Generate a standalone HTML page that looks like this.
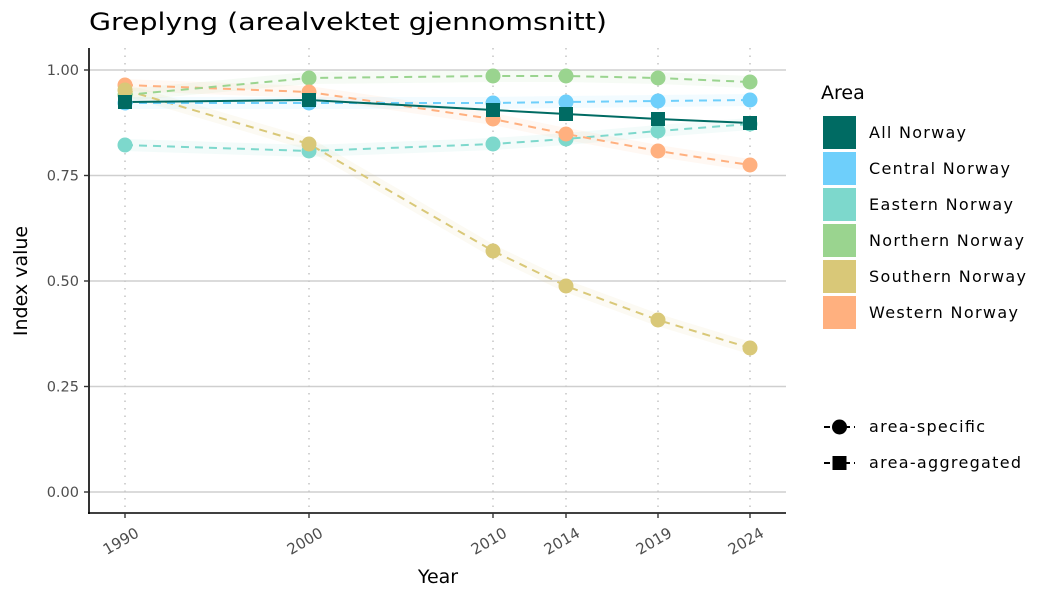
<!DOCTYPE html>
<html><head><style>body{margin:0;background:#fff}svg{display:block;font-family:"DejaVu Sans","Liberation Sans",sans-serif}</style></head>
<body>
<svg width="1050" height="600" viewBox="0 0 1050 600">
<text x="89" y="30" font-size="24" fill="#000" textLength="518" lengthAdjust="spacingAndGlyphs">Greplyng (arealvektet gjennomsnitt)</text>
<g stroke="#cfcfcf" stroke-width="1.6">
<line x1="89" x2="786" y1="70" y2="70"/><line x1="89" x2="786" y1="175.5" y2="175.5"/><line x1="89" x2="786" y1="281" y2="281"/><line x1="89" x2="786" y1="386.5" y2="386.5"/><line x1="89" x2="786" y1="492" y2="492"/>
</g>
<g stroke="#c8c8c8" stroke-width="1.6" stroke-dasharray="1.5,6">
<line x1="125" x2="125" y1="48" y2="513"/><line x1="309" x2="309" y1="48" y2="513"/><line x1="493" x2="493" y1="48" y2="513"/><line x1="566" x2="566" y1="48" y2="513"/><line x1="658" x2="658" y1="48" y2="513"/><line x1="750" x2="750" y1="48" y2="513"/>
</g>
<g fill="none" stroke-opacity="0.09" stroke-width="12" stroke-linejoin="round">
<polyline stroke="#d9c878" points="125,90 309,144 493,251 566,286 658,320 750,348"/>
<polyline stroke="#7dd8cc" points="125,145 309,151 493,144 566,139 658,131 750,124"/>
<polyline stroke="#ffb07f" points="125,85 309,92 493,119 566,134 658,151 750,165"/>
<polyline stroke="#9ad48f" points="125,95 309,78 493,76 566,76 658,78 750,82"/>
<polyline stroke="#6ecffb" points="125,103 309,103 493,103 566,102 658,101 750,100"/>
</g>
<g fill="none" stroke-width="2" stroke-dasharray="8,6">
<polyline stroke="#d9c878" points="125,90 309,144 493,251 566,286 658,320 750,348"/>
<polyline stroke="#7dd8cc" points="125,145 309,151 493,144 566,139 658,131 750,124"/>
<polyline stroke="#ffb07f" points="125,85 309,92 493,119 566,134 658,151 750,165"/>
<polyline stroke="#9ad48f" points="125,95 309,78 493,76 566,76 658,78 750,82"/>
<polyline stroke="#6ecffb" points="125,103 309,103 493,103 566,102 658,101 750,100"/>
</g>
<polyline fill="none" stroke="#006b63" stroke-width="2" points="125,102 309,100 493,110 566,114 658,119 750,123"/>
<g>
<g fill="#9ad48f"><circle cx="125" cy="95" r="7.5"/><circle cx="309" cy="78" r="7.5"/><circle cx="493" cy="76" r="7.5"/><circle cx="566" cy="76" r="7.5"/><circle cx="658" cy="78" r="7.5"/><circle cx="750" cy="82" r="7.5"/></g>
<g fill="#6ecffb"><circle cx="125" cy="103" r="7.5"/><circle cx="309" cy="103" r="7.5"/><circle cx="493" cy="103" r="7.5"/><circle cx="566" cy="102" r="7.5"/><circle cx="658" cy="101" r="7.5"/><circle cx="750" cy="100" r="7.5"/></g>
<g fill="#7dd8cc"><circle cx="125" cy="145" r="7.5"/><circle cx="309" cy="151" r="7.5"/><circle cx="493" cy="144" r="7.5"/><circle cx="566" cy="139" r="7.5"/><circle cx="658" cy="131" r="7.5"/><circle cx="750" cy="124" r="7.5"/></g>
<g fill="#ffb07f"><circle cx="125" cy="85" r="7.5"/><circle cx="309" cy="92" r="7.5"/><circle cx="493" cy="119" r="7.5"/><circle cx="566" cy="134" r="7.5"/><circle cx="658" cy="151" r="7.5"/><circle cx="750" cy="165" r="7.5"/></g>
<g fill="#d9c878"><circle cx="125" cy="90" r="7.5"/><circle cx="309" cy="144" r="7.5"/><circle cx="493" cy="251" r="7.5"/><circle cx="566" cy="286" r="7.5"/><circle cx="658" cy="320" r="7.5"/><circle cx="750" cy="348" r="7.5"/></g>
<g fill="#006b63"><rect x="118" y="95" width="14" height="14"/><rect x="302" y="93" width="14" height="14"/><rect x="486" y="103" width="14" height="14"/><rect x="559" y="107" width="14" height="14"/><rect x="651" y="112" width="14" height="14"/><rect x="743" y="116" width="14" height="14"/></g>
</g>
<line x1="89" y1="48" x2="89" y2="514" stroke="#000" stroke-width="1.6"/>
<line x1="88" y1="513" x2="786" y2="513" stroke="#000" stroke-width="1.6"/>
<g stroke="#333" stroke-width="1.4">
<line x1="84" x2="89" y1="70" y2="70"/><line x1="84" x2="89" y1="175.5" y2="175.5"/><line x1="84" x2="89" y1="281" y2="281"/><line x1="84" x2="89" y1="386.5" y2="386.5"/><line x1="84" x2="89" y1="492" y2="492"/>
<line x1="125" x2="125" y1="513" y2="518"/><line x1="309" x2="309" y1="513" y2="518"/><line x1="493" x2="493" y1="513" y2="518"/><line x1="566" x2="566" y1="513" y2="518"/><line x1="658" x2="658" y1="513" y2="518"/><line x1="750" x2="750" y1="513" y2="518"/>
</g>
<g font-size="14.5" fill="#4d4d4d" text-anchor="end">
<text x="79" y="75">1.00</text><text x="79" y="180.5">0.75</text><text x="79" y="286">0.50</text><text x="79" y="391.5">0.25</text><text x="79" y="497">0.00</text>
</g>
<g font-size="15" fill="#4d4d4d" text-anchor="end">
<text transform="translate(140,536) rotate(-30)">1990</text>
<text transform="translate(324,536) rotate(-30)">2000</text>
<text transform="translate(508,536) rotate(-30)">2010</text>
<text transform="translate(581,536) rotate(-30)">2014</text>
<text transform="translate(673,536) rotate(-30)">2019</text>
<text transform="translate(765,536) rotate(-30)">2024</text>
</g>
<text x="438" y="583" font-size="19" text-anchor="middle">Year</text>
<text transform="translate(27,281) rotate(-90)" font-size="19" text-anchor="middle">Index value</text>
<text x="821" y="99" font-size="19">Area</text>
<g font-size="16" fill="#000">
<rect x="823" y="116" width="33" height="33" fill="#006b63"/><text x="869" y="138" textLength="97">All Norway</text>
<rect x="823" y="152" width="33" height="33" fill="#6ecffb"/><text x="869" y="174" textLength="141">Central Norway</text>
<rect x="823" y="188" width="33" height="33" fill="#7dd8cc"/><text x="869" y="210" textLength="144">Eastern Norway</text>
<rect x="823" y="224" width="33" height="33" fill="#9ad48f"/><text x="869" y="246" textLength="155">Northern Norway</text>
<rect x="823" y="260" width="33" height="33" fill="#d9c878"/><text x="869" y="282" textLength="157">Southern Norway</text>
<rect x="823" y="296" width="33" height="33" fill="#ffb07f"/><text x="869" y="318" textLength="149">Western Norway</text>
<line x1="824" x2="855" y1="427" y2="427" stroke="#000" stroke-width="2" stroke-dasharray="6,4"/><circle cx="839.5" cy="427" r="7.5" fill="#000"/><text x="869" y="432" textLength="116">area-specific</text>
<line x1="824" x2="855" y1="463" y2="463" stroke="#000" stroke-width="2" stroke-dasharray="6,4"/><rect x="832.5" y="456" width="14" height="14" fill="#000"/><text x="869" y="468" textLength="152">area-aggregated</text>
</g>
</svg>
</body></html>
